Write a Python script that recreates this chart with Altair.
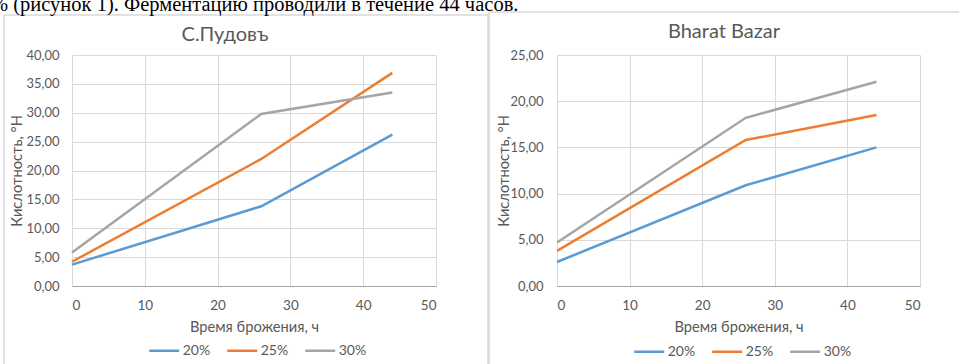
import altair as alt
import pandas as pd

# ---------------- data ----------------
hours = [0, 26, 44]
series = ["20%", "25%", "30%"]
colors = ["#5b9bd5", "#ed7d31", "#a5a5a5"]

pudov_20 = [3.7, 13.8, 26.2]
pudov_25 = [4.2, 22.0, 36.9]
pudov_30 = [5.8, 29.8, 33.5]

bharat_20 = [2.6, 10.9, 15.0]
bharat_25 = [3.8, 15.8, 18.5]
bharat_30 = [4.7, 18.2, 22.1]

x_ticks = [0, 10, 20, 30, 40, 50]
pudov_y_ticks = [0, 5, 10, 15, 20, 25, 30, 35, 40]
bharat_y_ticks = [0, 5, 10, 15, 20, 25]

title_left = "С.Пудовъ"
title_right = "Bharat Bazar"
x_title = "Время брожения, ч"
y_title = "Кислотность, °Н"
top_text = "% (рисунок 1). Ферментацию проводили в течение 44 часов."


def frame(*cols):
    rows = []
    for s, vals in zip(series, cols):
        for h, v in zip(hours, vals):
            rows.append({"hours": h, "acid": v, "series": s})
    return pd.DataFrame(rows)


FONT = "Lato"
GRAY = "#595959"
GRID = "#d9d9d9"
H = 231
one = alt.Data(values=[{"k": 1}])


def rule(x1, x2, y1, y2):
    return alt.Chart(one).mark_rule(color="#d9d9d9", strokeWidth=1.5).encode(
        x=alt.value(x1), x2=alt.value(x2), y=alt.value(y1), y2=alt.value(y2)
    )


def label_text(txt, x, y, size, font=FONT, color=GRAY, align="center"):
    return alt.Chart(one).mark_text(
        font=font, fontSize=size, color=color, align=align, baseline="alphabetic"
    ).encode(x=alt.value(x), y=alt.value(y), text=alt.value(txt))


def panel(df, ymax, yticks, width, ytitle_x, ylabel_pad, legend_y, extras):
    x_axis = alt.Axis(
        values=x_ticks, title=x_title, grid=True, gridColor=GRID, gridWidth=1,
        domainColor="#a6a6a6", domainWidth=1, ticks=False, tickSize=0,
        labelPadding=12, labelFontSize=13.5, labelColor=GRAY, labelFont=FONT,
        titleFont=FONT, titleFontSize=14.7, titleColor=GRAY, titleFontWeight="normal",
        titleX=width / 2, titleY=41, titleBaseline="middle", titleAlign="center",
    )
    y_axis = alt.Axis(
        values=yticks, labelExpr="replace(format(datum.value, '.2f'), '.', ',')",
        title=y_title, grid=True, gridColor=GRID, gridWidth=1, domain=False,
        ticks=False, tickSize=0, labelPadding=ylabel_pad, labelFontSize=13,
        labelColor=GRAY, labelFont=FONT, titleFont=FONT, titleFontSize=14.7,
        titleColor=GRAY, titleFontWeight="normal", titleAngle=270,
        titleX=ytitle_x, titleY=H / 2, titleBaseline="middle", titleAlign="center",
    )
    lines = alt.Chart(df).mark_line(strokeWidth=2.5).encode(
        x=alt.X("hours:Q", scale=alt.Scale(domain=[0, 50], nice=False), axis=x_axis),
        y=alt.Y("acid:Q", scale=alt.Scale(domain=[0, ymax], nice=False), axis=y_axis),
        color=alt.Color(
            "series:N",
            scale=alt.Scale(domain=series, range=colors),
            legend=alt.Legend(
                title=None, orient="none", legendX=75.7, legendY=legend_y,
                direction="horizontal", symbolType="stroke", symbolSize=900,
                symbolStrokeWidth=2.5, labelFontSize=14, labelColor=GRAY,
                labelFont=FONT, labelOffset=2, columnPadding=11, padding=0,
            ),
        ),
    )
    return alt.layer(lines, *extras).properties(width=width, height=H)


left = panel(
    frame(pudov_20, pudov_25, pudov_30), 40, pudov_y_ticks, 364, -55, 13, 279,
    [
        rule(-68, -68, -40, 309),
        rule(-68, 416, -40, -40),
        rule(416, 416, -40, 309),
        label_text(title_left, 153, -14, 20),
        label_text(top_text, -81, -44, 20.5, font="Liberation Serif", color="black", align="left"),
    ],
)

right = panel(
    frame(bharat_20, bharat_25, bharat_30), 25, bharat_y_ticks, 363, -53, 14, 280,
    [
        rule(-68, -68, -43, 309),
        rule(-68, 402, -43, -43),
        label_text(title_right, 167, -17, 20),
    ],
)

chart = (
    alt.hconcat(
        left, right, spacing=121, bounds="flush",
        padding={"left": -9, "top": -5, "right": 0, "bottom": 0},
    )
    .resolve_scale(color="independent")
    .configure(background="white")
    .configure_view(stroke=None)
)

chart.save("out.html", embed_options={"renderer": "svg", "actions": False})
